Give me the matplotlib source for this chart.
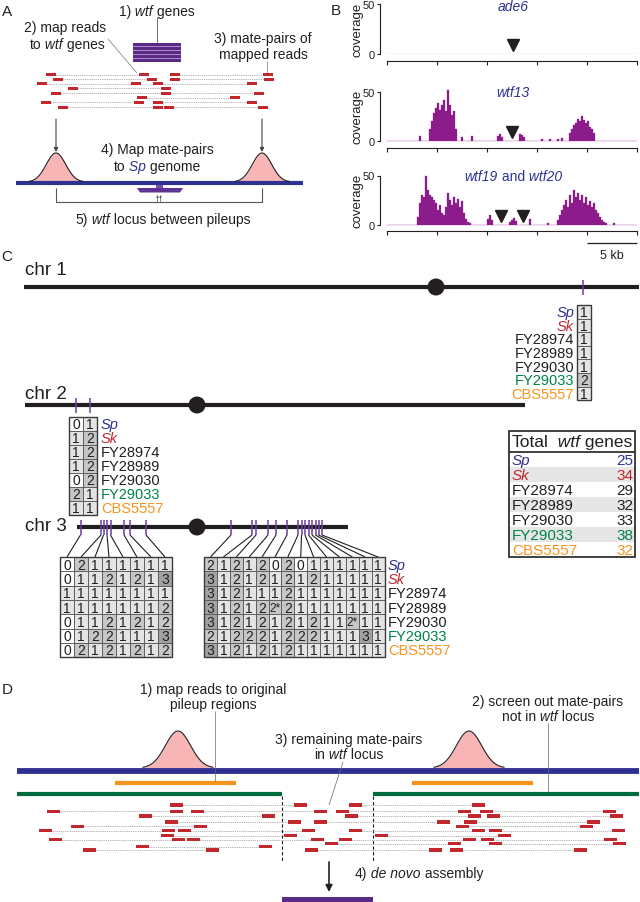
import numpy as np
import matplotlib
matplotlib.use('Agg')
import matplotlib.pyplot as plt
from matplotlib.patches import Rectangle, Circle, Polygon
from matplotlib.transforms import offset_copy
from matplotlib import font_manager


def has_font(name):
    try:
        font_manager.findfont(font_manager.FontProperties(family=name), fallback_to_default=False)
        return True
    except Exception:
        return False


BASE = 'Liberation Sans'
NARROW = 'Liberation Sans Narrow' if has_font('Liberation Sans Narrow') else BASE
plt.rcParams['font.family'] = [BASE, 'DejaVu Sans']

# ---------------------------------------------------------------- data
strains = ['Sp', 'Sk', 'FY28974', 'FY28989', 'FY29030', 'FY29033', 'CBS5557']
strain_colors = ['#2e3192', '#c1272d', '#231f20', '#231f20', '#231f20', '#00834a', '#f7941d']
strain_italic = [True, True, False, False, False, False, False]

chr1_counts = [[1], [1], [1], [1], [1], [2], [1]]
chr2_counts = [[0, 1], [1, 2], [1, 2], [1, 2], [0, 2], [2, 1], [1, 1]]
chr3_left_counts = [
    [0, 2, 1, 1, 1, 1, 1, 1],
    [0, 1, 1, 2, 1, 2, 1, 3],
    [1, 1, 1, 1, 1, 1, 1, 1],
    [1, 1, 1, 1, 1, 1, 1, 2],
    [0, 1, 1, 2, 1, 2, 1, 2],
    [0, 1, 2, 2, 1, 1, 1, 3],
    [0, 2, 1, 2, 1, 2, 1, 2],
]
chr3_right_counts = [
    [2, 1, 2, 1, 2, 0, 2, 0, 1, 1, 1, 1, 1, 1],
    [3, 1, 2, 1, 2, 1, 2, 1, 2, 1, 1, 1, 1, 1],
    [3, 1, 2, 1, 1, 1, 2, 1, 1, 1, 1, 1, 1, 1],
    [3, 1, 2, 1, 2, 2, 2, 1, 1, 1, 1, 1, 1, 1],
    [3, 1, 2, 1, 2, 1, 2, 1, 2, 1, 1, 2, 1, 1],
    [2, 1, 2, 2, 2, 1, 2, 2, 2, 1, 1, 1, 3, 1],
    [3, 1, 2, 1, 2, 1, 2, 1, 1, 1, 1, 1, 1, 1],
]
chr3_right_starred = [(3, 5), (4, 11)]
total_wtf = [25, 34, 29, 32, 33, 38, 32]

# panel B coverage, 0.2 kb bins from 0 to 25 kb
cov_bin_kb = 0.2
cov_wtf13 = [
    0, 0, 0, 0, 0, 0, 0, 0, 0, 0, 0, 0, 0, 0, 0, 0, 5, 0, 0, 0, 0, 12, 20, 28, 33,
    38, 31, 36, 42, 30, 52, 36, 26, 30, 12, 0, 0, 4, 0, 0, 0, 0, 5, 0, 0, 0, 0, 0, 0, 0,
    0, 0, 0, 0, 0, 5, 7, 4, 0, 0, 0, 0, 0, 0, 0, 0, 7, 6, 4, 0, 0, 0, 0, 0, 0,
    0, 0, 2, 0, 0, 0, 2, 0, 0, 0, 2, 0, 3, 0, 0, 0, 8, 12, 16, 18, 22, 20, 25, 21, 18,
    20, 14, 12, 8, 0, 0, 0, 0, 0, 0, 0, 0, 0, 0, 0, 0, 0, 0, 0, 0, 0, 0, 0, 0, 0,
]
cov_wtf19_20 = [
    0, 0, 0, 0, 0, 0, 0, 0, 0, 0, 0, 0, 0, 0, 0, 8, 22, 30, 28, 50, 35, 30, 28, 25, 22,
    15, 20, 12, 10, 18, 32, 25, 20, 28, 22, 26, 18, 24, 12, 6, 3, 2, 0, 0, 0, 0, 0, 0, 0, 0,
    6, 10, 5, 0, 0, 0, 0, 0, 0, 0, 0, 3, 5, 7, 4, 0, 0, 0, 0, 0, 0, 6, 0, 0, 0,
    0, 0, 0, 0, 0, 2, 0, 0, 0, 0, 5, 10, 15, 20, 25, 18, 30, 22, 35, 28, 32, 25, 30, 22, 28,
    20, 24, 18, 22, 15, 12, 8, 5, 3, 2, 0, 0, 0, 2, 0, 0, 0, 0, 0, 0, 0, 0, 0, 0, 0,
]
track_titles = ['ade6', 'wtf13', 'wtf19 and wtf20']
track_arrows_kb = [[12.6], [12.5], [11.4, 13.6]]

# ---------------------------------------------------------------- layout (pixels)
W, H = 640, 903
C_BLUE = '#2e3192'
C_RED = '#c1272d'
C_PURPLE = '#5b2a86'
C_INK = '#231f20'
C_PINK = '#f7b5b5'
C_ORANGE = '#f7941d'
C_GREEN = '#006b3c'
C_COV = '#8c1c8c'
C_ZERO = '#d9a3d9'
SHADE = {0: '#ffffff', 1: '#e4e4e4', 2: '#c6c6c6', 3: '#a2a2a2'}
FS_A = 10.0
FS_D = 10.0

fig = plt.figure(figsize=(6.4, 9.03), dpi=100)
ax = fig.add_axes([0, 0, 1, 1])
ax.set_xlim(0, W)
ax.set_ylim(H, 0)
ax.axis('off')
renderer = fig.canvas.get_renderer()


def rich_text(x, y, parts, size, ha='center', family=None, axes=None):
    a = axes or ax
    objs, widths = [], []
    for s, color, style in parts:
        t = a.text(x, y, s, fontsize=size, color=color, style=style, ha='left',
                   va='center', family=family or [BASE, 'DejaVu Sans'])
        widths.append(t.get_window_extent(renderer=renderer).width)
        objs.append(t)
    total = sum(widths)
    off = {'center': -total / 2, 'right': -total, 'left': 0}[ha]
    for t, w in zip(objs, widths):
        t.set_transform(offset_copy(a.transData, fig=fig, x=off, y=0, units='dots'))
        off += w


def plain(x, y, s, size, ha='center', color=C_INK, style='normal', family=None):
    ax.text(x, y, s, fontsize=size, ha=ha, va='center', color=color, style=style,
            family=family or [BASE, 'DejaVu Sans'])


def line(xs, ys, color=C_INK, lw=0.8, **kw):
    ax.plot(xs, ys, color=color, lw=lw, solid_capstyle='butt', **kw)


def read(xc, y, w=10, h=3.0):
    ax.add_patch(Rectangle((xc - w / 2, y - h / 2), w, h, fc=C_RED, ec='none', zorder=4))


def pileup(xc, half, base, height):
    u = np.linspace(-1, 1, 80)
    v = np.exp(-u ** 2 / (2 * 0.36 ** 2))
    xs = xc + u * half
    ys = base - v * height
    ax.fill_between(xs, ys, base, color=C_PINK, lw=0, zorder=2)
    ax.plot(xs, ys, color=C_INK, lw=0.8, zorder=3)


# ================================================================ Panel A
plain(7, 12, 'A', 11)
rich_text(157, 12, [('1)', C_INK, 'normal'), (' wtf', C_INK, 'italic'), (' genes', C_INK, 'normal')], FS_A)
line([157, 157], [18, 44], color='#555555', lw=0.6)
ax.add_patch(Rectangle((133, 44), 48, 19, fc='#a88cc8', ec='none'))
for k in range(5):
    ax.add_patch(Rectangle((133, 44 + k * 3.9), 48, 2.9, fc=C_PURPLE, ec='none'))

plain(65, 28, '2) map reads', FS_A)
rich_text(67, 45, [('to', C_INK, 'normal'), (' wtf', C_INK, 'italic'), (' genes', C_INK, 'normal')], FS_A)
line([108, 137], [40, 74], color='#777777', lw=0.5)
plain(263, 39, '3) mate-pairs of', FS_A)
plain(263, 55, 'mapped reads', FS_A)
line([267, 267], [62, 74], color='#777777', lw=0.5)

a_pairs = [
    (75.7, 51, 144.3), (75.7, 174.7, 268.3),
    (80.3, 58.3, 151.7), (80.3, 175, 269.3),
    (84.7, 42.3, 135.7), (84.7, 157.7, 251.7),
    (89.3, 72.7, 166),
    (94.0, 56, 166), (94.0, 166, 259.3),
    (98.7, 141.7, 235),
    (103.3, 45.7, 139.3), (103.3, 157.7, 251.7),
    (108.0, 63.3, 157.7), (108.0, 169.3, 263.3),
]
for y, x1, x2 in a_pairs:
    ax.plot([x1, x2], [y, y], color='#8a8a8a', lw=0.45, ls=(0, (2, 1.5)), zorder=3)
    read(x1, y)
    read(x2, y)

for xa in (56, 262):
    ax.annotate('', xy=(xa, 153), xytext=(xa, 120),
                arrowprops=dict(arrowstyle='-|>', color='#444444', lw=0.8, mutation_scale=6,
                                shrinkA=0, shrinkB=0))
pileup(56, 27, 183, 29)
pileup(262, 27, 183, 29)
plain(157, 150, '4) Map mate-pairs', FS_A)
rich_text(157, 167, [('to', C_INK, 'normal'), (' Sp', C_BLUE, 'italic'), (' genome', C_INK, 'normal')], FS_A)
line([16, 303], [184, 184], color=C_BLUE, lw=3.0)
ax.add_patch(Rectangle((156, 184), 7, 5, fc='#7b4fae', ec='none'))
ax.add_patch(Polygon([(137, 189), (183, 189), (180, 193.5), (140, 193.5)], closed=True,
                     fc='#5e3392', ec='none'))
line([56, 56, 262, 262], [189, 203, 203, 189], color='#555555', lw=0.8)
for xa in (157.5, 160.5):
    ax.annotate('', xy=(xa, 196), xytext=(xa, 203),
                arrowprops=dict(arrowstyle='-|>', color='#555555', lw=0.5, mutation_scale=3,
                                shrinkA=0, shrinkB=0))
rich_text(163, 220, [('5)', C_INK, 'normal'), (' wtf', C_INK, 'italic'),
                     (' locus between pileups', C_INK, 'normal')], FS_A)

# ================================================================ Panel B
plain(336, 11, 'B', 11)
track_px = [(5, 55), (92.7, 141.7), (176.5, 225.5)]
track_cov = [None, cov_wtf13, cov_wtf19_20]
for i, (top, bot) in enumerate(track_px):
    b = fig.add_axes([380 / W, 1 - bot / H, 257 / W, (bot - top) / H])
    b.set_facecolor('none')
    b.set_xlim(-0.7, 25)
    b.set_ylim(0, 50)
    b.hlines(0, -0.2, 25, color=C_ZERO, lw=0.9, zorder=1)
    if track_cov[i] is not None:
        cov = track_cov[i]
        lefts = np.arange(len(cov)) * cov_bin_kb
        b.bar(lefts, cov, width=cov_bin_kb, align='edge', color=C_COV, ec=C_COV, lw=0.2,
              zorder=2, clip_on=False)
    b.plot(track_arrows_kb[i], [8.8] * len(track_arrows_kb[i]), 'v', ms=8.5, color=C_INK,
           zorder=4, clip_on=False)
    for s in ('top', 'right'):
        b.spines[s].set_visible(False)
    b.spines['left'].set_bounds(0, 50)
    b.spines['left'].set_linewidth(0.8)
    b.spines['left'].set_color(C_INK)
    b.spines['bottom'].set_bounds(0, 25)
    b.spines['bottom'].set_position(('outward', 5))
    b.spines['bottom'].set_linewidth(0.8)
    b.spines['bottom'].set_color(C_INK)
    b.set_yticks([0, 50])
    b.set_yticklabels(['0', '50'], fontsize=8)
    b.set_xticks([0, 5, 10, 15, 20, 25])
    b.set_xticklabels([])
    b.tick_params(axis='y', length=2.5, width=0.8, pad=1.5, colors=C_INK)
    b.tick_params(axis='x', length=3, width=0.8, colors=C_INK)
    b.text(-3.0, 25, 'coverage', rotation=90, fontsize=9.5, ha='center', va='center', color=C_INK)
    title = track_titles[i]
    if title == 'wtf19 and wtf20':
        rich_text(12.6, 49, [('wtf19', C_BLUE, 'italic'), (' and', C_BLUE, 'normal'),
                             (' wtf20', C_BLUE, 'italic')], 10, axes=b)
    else:
        b.text(12.6, 48 if i == 0 else 50, title, fontsize=10, style='italic', color=C_BLUE,
               ha='center', va='center')

line([587, 637], [244, 244], lw=0.9)
plain(612, 256, '5 kb', 9)

# ================================================================ Panel C


def strain_label(x, y, k, ha, size=10.5):
    plain(x, y, strains[k], size, ha=ha, color=strain_colors[k],
          style='italic' if strain_italic[k] else 'normal')


def table(x0, y0, cw, rh, values, starred=()):
    nr, nc = len(values), len(values[0])
    for i in range(nr):
        for j in range(nc):
            v = values[i][j]
            ax.add_patch(Rectangle((x0 + j * cw, y0 + i * rh), cw, rh, fc=SHADE[v],
                                   ec='#555555', lw=0.6, zorder=3))
            s = str(v) + ('*' if (i, j) in starred else '')
            plain(x0 + (j + 0.5) * cw, y0 + (i + 0.5) * rh + 0.5, s, 10 if len(s) == 1 else 8.5)
    ax.add_patch(Rectangle((x0, y0), nc * cw, nr * rh, fill=False, ec='#3a3a3a', lw=1.0,
                           zorder=4))


def chromosome(y, x1, x2, cen_x):
    line([x1, x2], [y, y], lw=3.0)
    ax.add_patch(Circle((cen_x, y), 8.5, fc=C_INK, ec='none', zorder=3))


def gene_ticks(xs, y):
    for x in xs:
        line([x, x], [y - 7, y + 8], color='#6b3fa0', lw=1.1)


plain(7, 257, 'C', 11)
plain(25, 271, 'chr 1', 13.5, ha='left')
chromosome(288, 24, 639, 436)
gene_ticks([583], 288)
chr1_rh = 13.6
table(577, 306, 14, chr1_rh, chr1_counts)
for k in range(7):
    strain_label(574, 306 + (k + 0.5) * chr1_rh + 0.5, k, 'right')

plain(25, 395, 'chr 2', 13.5, ha='left')
chromosome(406, 25, 525, 197)
gene_ticks([76, 90], 406)
table(69, 418, 14, 14, chr2_counts)
for k in range(7):
    strain_label(101, 418 + (k + 0.5) * 14 + 0.5, k, 'left')

chr3_left_genes = [80.5, 101, 103.5, 107, 110.5, 124, 130, 146]
chr3_right_genes = [231, 252, 256, 268, 276, 287, 298, 301.5, 305, 308.5, 312, 315.5, 318.5, 322]
plain(25, 527, 'chr 3', 13.5, ha='left')
chromosome(528, 77, 348, 197)
gene_ticks(chr3_left_genes + chr3_right_genes, 528)
rh3 = 14.3
L_x0, L_cw = 60, 14.0
R_x0, R_cw = 204, 12.9
for j, gx in enumerate(chr3_left_genes):
    line([gx, L_x0 + (j + 0.5) * L_cw], [536, 558], lw=0.8)
for j, gx in enumerate(chr3_right_genes):
    line([gx, R_x0 + (j + 0.5) * R_cw], [536, 558], lw=0.8)
table(L_x0, 558, L_cw, rh3, chr3_left_counts)
table(R_x0, 558, R_cw, rh3, chr3_right_counts, starred=chr3_right_starred)
for k in range(7):
    strain_label(388, 558 + (k + 0.5) * rh3 + 0.5, k, 'left')

# total table
tx0, tx1, ty0, ty1, thead = 509, 635, 432, 558, 453
trh = (ty1 - thead) / 7
for k in range(7):
    if k % 2 == 1:
        ax.add_patch(Rectangle((tx0, thead + k * trh), tx1 - tx0, trh, fc='#e6e6e6', ec='none'))
    yk = thead + (k + 0.5) * trh + 0.5
    strain_label(512, yk, k, 'left', size=11)
    plain(633, yk, str(total_wtf[k]), 11, ha='right', color=strain_colors[k])
ax.add_patch(Rectangle((tx0, ty0), tx1 - tx0, ty1 - ty0, fill=False, ec=C_INK, lw=1.2))
line([tx0, tx1], [thead, thead], lw=1.2)
rich_text(572, 442.5, [('Total', C_INK, 'normal'), ('  wtf', C_INK, 'italic'),
                       (' genes', C_INK, 'normal')], 12.5)

# ================================================================ Panel D
plain(7, 690, 'D', 11)
plain(213, 690, '1) map reads to original', FS_D, family=[NARROW, BASE])
plain(213, 705, 'pileup regions', FS_D, family=[NARROW, BASE])
plain(548, 702, '2) screen out mate-pairs', FS_D, family=[NARROW, BASE])
rich_text(548, 717, [('not in', C_INK, 'normal'), (' wtf', C_INK, 'italic'),
                     (' locus', C_INK, 'normal')], FS_D, family=[NARROW, BASE])
plain(349, 740, '3) remaining mate-pairs', FS_D, family=[NARROW, BASE])
rich_text(349, 755, [('in', C_INK, 'normal'), (' wtf', C_INK, 'italic'),
                     (' locus', C_INK, 'normal')], FS_D, family=[NARROW, BASE])

pileup(178, 35, 769, 37)
pileup(469, 35, 769, 37)
line([17, 639], [772, 772], color=C_BLUE, lw=4.2)
line([115, 236], [784, 784], color=C_ORANGE, lw=3.0)
line([412, 533], [784, 784], color=C_ORANGE, lw=3.0)
line([17, 282], [795, 795], color=C_GREEN, lw=3.0)
line([373, 639], [795, 795], color=C_GREEN, lw=3.0)
line([215, 215], [712, 782], color='#666666', lw=0.5)
line([548, 548], [724, 793], color='#666666', lw=0.5)
line([343, 329], [763, 806], color='#666666', lw=0.5)
for xd in (282, 373):
    ax.plot([xd, xd], [797, 862], color=C_INK, lw=0.8, ls=(0, (3, 2)))

d_pairs = [
    (806, 176, 300), (806, 355, 478),
    (812.5, 53, 176), (812.5, 197, 320), (812.5, 342, 464), (812.5, 486, 609),
    (817, 145, 268), (817, 351, 474), (817, 493, 616),
    (823, 171, 294), (823, 320, 443), (823, 470, 593),
    (827.4, 77, 200), (827.4, 462, 586),
    (831.6, 45, 168), (831.6, 184, 308), (831.6, 355, 478), (831.6, 495, 618),
    (836.9, 167, 290), (836.9, 381, 504),
    (840.6, 55, 178), (840.6, 193, 317), (840.6, 345, 469), (840.6, 487, 610),
    (844.8, 331, 454), (844.8, 495, 619),
    (847.6, 142, 265),
    (851, 89, 212), (851, 311, 435), (851, 456, 580),
]
for y, x1, x2 in d_pairs:
    ax.plot([x1, x2], [y, y], color='#8a8a8a', lw=0.45, ls=(0, (2, 1.5)), zorder=3)
    read(x1, y, w=13, h=3.2)
    read(x2, y, w=13, h=3.2)

ax.annotate('', xy=(329, 893), xytext=(329, 863),
            arrowprops=dict(arrowstyle='-|>', color=C_INK, lw=1.2, mutation_scale=10,
                            shrinkA=0, shrinkB=0))
rich_text(355, 874, [('4)', C_INK, 'normal'), (' de novo', C_INK, 'italic'),
                     (' assembly', C_INK, 'normal')], FS_D, ha='left', family=[NARROW, BASE])
ax.add_patch(Rectangle((282, 898), 91, 6, fc=C_PURPLE, ec='none'))

fig.savefig('out.png', dpi=100)
